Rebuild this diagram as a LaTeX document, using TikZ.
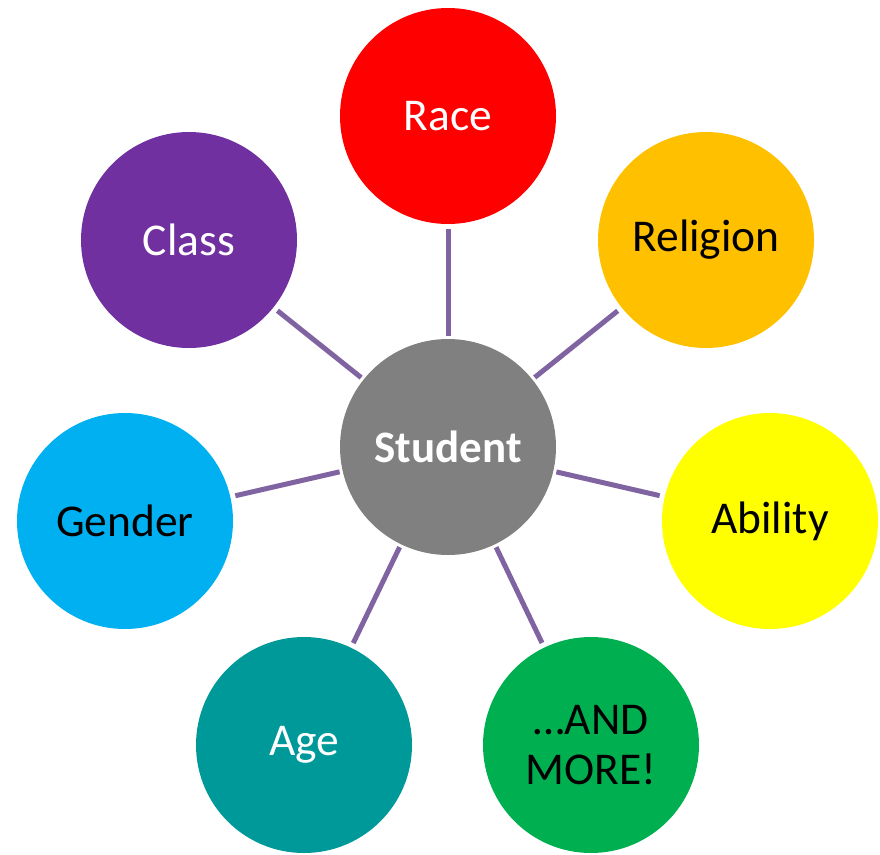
\documentclass[tikz,border=0pt]{standalone}
\usepackage{fontspec}
\setmainfont{Carlito}
\definecolor{linkpurple}{HTML}{8064A2}
\definecolor{racered}{HTML}{FF0000}
\definecolor{religionorange}{HTML}{FFC000}
\definecolor{abilityyellow}{HTML}{FFFF00}
\definecolor{moregreen}{HTML}{00B050}
\definecolor{ageteal}{HTML}{009999}
\definecolor{genderblue}{HTML}{00B0F0}
\definecolor{classpurple}{HTML}{7030A0}
\definecolor{studentgrey}{HTML}{808080}
\begin{document}
\begin{tikzpicture}[x=1pt, y=-1pt,
    bubble/.style={circle, minimum size=216pt, inner sep=0pt, align=center,
        font=\fontsize{45.5}{50}\selectfont},
    link/.style={draw=linkpurple, line width=5pt, shorten <=3pt, shorten >=5pt}]
            \useasboundingbox (0,0) rectangle (880,854);
            \node[bubble, fill=studentgrey, text=white, font=\fontsize{45}{50}\selectfont\bfseries] (student) at (448,447) {Student};
            \node[bubble, fill=racered, text=white] (race) at (448,116) {Race};
            \node[bubble, fill=religionorange] (religion) at (706,240) {Religion};
            \node[bubble, fill=abilityyellow] (ability) at (770,521) {Ability};
            \node[bubble, fill=moregreen] (more) at (591,745) {…AND\\MORE!};
            \node[bubble, fill=ageteal, text=white] (age) at (304,745) {Age};
            \node[bubble, fill=genderblue] (gender) at (125,521) {Gender};
            \node[bubble, fill=classpurple, text=white] (class) at (189,240) {Class};
            \foreach \n in {race,religion,ability,more,age,gender,class}
                \draw[link] (student) -- (\n);
        \end{tikzpicture}
\end{document}
